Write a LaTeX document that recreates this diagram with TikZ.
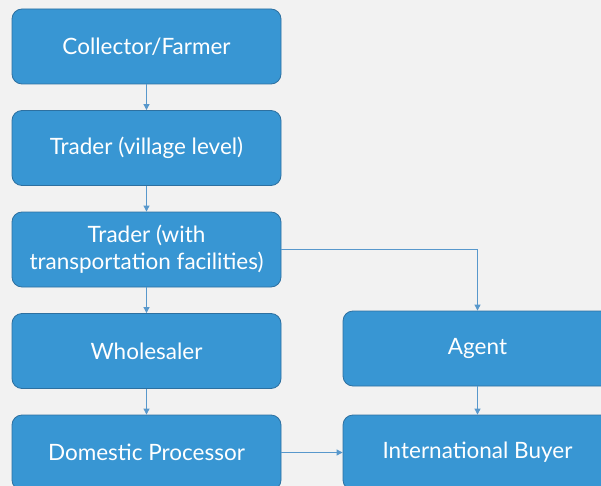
\documentclass[tikz,border=0pt]{standalone}
\usepackage{fontspec}
\setmainfont{Lato}
\usetikzlibrary{arrows.meta}
\definecolor{pagebg}{RGB}{242,242,242}
\definecolor{boxfill}{RGB}{56,150,211}
\definecolor{boxline}{RGB}{45,112,160}
\definecolor{flowline}{RGB}{88,152,204}
\begin{document}
\begin{tikzpicture}[
  x=1pt, y=-1pt,
  box/.style={rectangle, rounded corners=10pt, draw=boxline, fill=boxfill, line width=0.8pt,
    text=white, align=center, minimum width=269pt, minimum height=75pt,
    font=\fontsize{22.5}{27}\selectfont},
  flow/.style={-{Triangle[length=6pt,width=6pt]}, flowline, line width=0.8pt},
  node distance=101.5pt
]
\useasboundingbox (0,0) rectangle (601,486);
\clip (0,0) rectangle (601,486);
\fill[pagebg] (0,0) rectangle (601,486);

\node[box] (collector) at (146.5,46.5) {Collector/Farmer};
\node[box, below of=collector] (village) {Trader (village level)};
\node[box, below of=village] (transport) {Trader (with\\transportation facilities)};
\node[box, below of=transport] (wholesaler) {Wholesaler};
\node[box, below of=wholesaler] (processor) {Domestic Processor};
\node[box, right of=wholesaler, node distance=331pt, yshift=2.5pt] (agent) {Agent};
\node[box, right of=processor, node distance=331pt] (buyer) {International Buyer};

% Main chain
\draw[flow] (collector) -- (village);
\draw[flow] (village) -- (transport);
\draw[flow] (transport) -- (wholesaler);
\draw[flow] (wholesaler) -- (processor);

% Export route
\draw[flow] (transport.east) -| (agent.north);
\draw[flow] (agent) -- (buyer);
\draw[flow] (processor) -- (buyer);
\end{tikzpicture}
\end{document}
